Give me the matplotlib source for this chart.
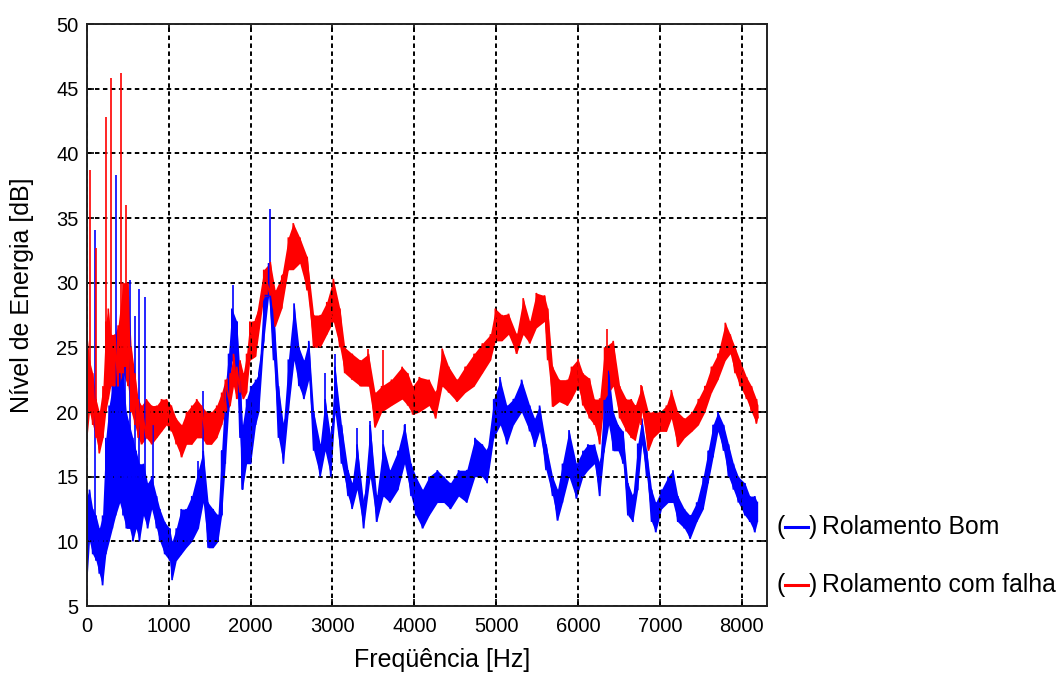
import matplotlib

matplotlib.use("Agg")
import matplotlib.pyplot as plt
import numpy as np
from matplotlib.lines import Line2D

# ---- data (Hz, dB) ----
# Rolamento Bom (blue): lower / upper edge of the noisy band
bom_freq = [0, 30, 70, 110, 150, 190, 230, 270, 310, 350, 400, 440, 480, 520, 560, 600,
            640, 690, 740, 790, 850, 890, 950, 1010, 1040, 1090, 1150, 1210, 1280, 1360,
            1420, 1480, 1540, 1600, 1645, 1690, 1730, 1770, 1830, 1870, 1900, 1950, 2000,
            2060, 2100, 2160, 2220, 2280, 2340, 2400, 2460, 2530, 2590, 2650, 2710, 2770,
            2850, 2910, 2980, 3030, 3110, 3190, 3240, 3300, 3380, 3460, 3540, 3620, 3700,
            3800, 3880, 3960, 4020, 4100, 4180, 4280, 4360, 4440, 4540, 4640, 4740, 4830,
            4890, 4970, 5050, 5130, 5210, 5310, 5410, 5470, 5530, 5610, 5690, 5750, 5810,
            5890, 5980, 6060, 6120, 6200, 6265, 6320, 6375, 6430, 6490, 6550, 6610, 6670,
            6730, 6780, 6840, 6900, 6950, 7020, 7100, 7160, 7220, 7300, 7370, 7450, 7530,
            7590, 7650, 7710, 7780, 7840, 7900, 7960, 8040, 8100, 8160, 8192]
bom_low = [7.0, 10.0, 9.0, 8.5, 7.5, 6.6, 9.0, 10.0, 11.0, 12.0, 13.0, 12.0, 11.0, 11.0, 10.0, 11.0,
           10.0, 12.0, 11.0, 12.5, 11.0, 10.0, 9.0, 8.5, 7.0, 8.5, 9.0, 9.5, 10.0, 11.0,
           13.0, 9.5, 9.5, 10.0, 12.0, 16.0, 20.0, 24.0, 23.0, 18.0, 14.0, 16.0, 16.0,
           19.0, 20.0, 25.5, 29.0, 24.0, 18.0, 16.0, 20.0, 24.0, 22.0, 21.0, 22.5, 17.0,
           15.0, 17.0, 15.0, 20.0, 16.0, 13.5, 12.5, 14.0, 11.0, 15.0, 11.5, 13.5, 13.0,
           14.0, 16.0, 13.5, 12.0, 11.0, 12.0, 13.0, 13.0, 12.5, 13.5, 13.0, 15.0, 15.0,
           14.5, 18.0, 19.0, 17.5, 19.0, 20.0, 18.5, 17.3, 18.5, 15.5, 13.5, 11.6, 13.0,
           15.0, 13.3, 15.0, 15.5, 16.0, 13.5, 17.0, 19.0, 17.0, 17.0, 16.0, 12.0, 11.5,
           14.0, 17.5, 15.0, 11.5, 10.7, 12.5, 13.0, 13.0, 11.5, 11.0, 10.2, 11.5, 12.5,
           14.5, 16.5, 18.5, 17.0, 15.0, 14.0, 13.0, 12.0, 11.5, 10.7, 11.5]
bom_high = [13.5, 14.0, 12.5, 12.0, 11.0, 12.0, 18.0, 20.5, 22.0, 24.0, 23.0, 23.0, 20.0, 19.0, 18.0, 17.0,
            16.0, 16.0, 14.5, 15.0, 13.5, 12.5, 11.5, 11.0, 10.0, 11.0, 12.5, 12.5, 13.5, 15.5,
            17.0, 13.0, 12.5, 12.0, 17.0, 22.0, 24.5, 28.0, 27.0, 23.0, 19.0, 21.0, 22.0,
            22.5, 23.0, 29.0, 31.5, 28.0, 22.0, 19.0, 24.0, 28.4, 25.0, 24.0, 25.5, 20.0,
            17.5, 21.0, 18.0, 23.5, 19.0, 15.5, 14.5, 17.5, 13.0, 19.0, 13.5, 17.5, 15.5,
            17.0, 19.0, 16.0, 15.0, 14.0, 15.0, 15.5, 15.0, 14.5, 15.5, 15.5, 18.0, 17.5,
            17.0, 21.0, 22.5, 20.5, 21.0, 22.5, 20.5, 19.5, 20.5, 17.5, 15.0, 14.0, 16.0,
            18.6, 16.0, 17.0, 17.5, 17.5, 16.0, 21.0, 23.2, 20.0, 19.0, 18.5, 14.5, 13.5,
            17.5, 19.5, 17.0, 14.0, 13.0, 14.0, 15.0, 15.5, 13.5, 12.5, 12.0, 13.0, 15.0,
            17.0, 19.0, 20.0, 19.0, 17.5, 16.0, 15.0, 14.5, 13.5, 13.5, 13.0]
# isolated narrow peaks: frequency, foot, top
bom_spike_freq = [100, 351, 470, 522, 584, 641, 706, 808, 1359, 1420, 1645, 1788, 2240, 2911,
                  3033, 3297, 3460, 3622, 3886, 5048]
bom_spike_base = [12, 14, 14, 12, 12, 11, 12, 13, 12, 14, 12, 24, 29, 18, 20, 15, 15, 14, 16, 20]
bom_spike_top = [34.1, 38.3, 23.5, 30.2, 27.4, 29.5, 28.9, 19.0, 16.2, 21.6, 17.1, 29.8, 35.7, 23.0,
                 24.5, 18.8, 19.3, 18.6, 19.1, 22.7]

# Rolamento com falha (red)
falha_freq = [0, 30, 70, 110, 150, 195, 230, 260, 290, 340, 380, 440, 500, 540, 585, 625,
              665, 725, 790, 850, 910, 970, 1030, 1090, 1155, 1215, 1280, 1340, 1400, 1460,
              1520, 1585, 1645, 1690, 1750, 1790, 1830, 1870, 1910, 1950, 1990, 2060, 2160,
              2240, 2300, 2380, 2460, 2520, 2600, 2690, 2770, 2850, 2930, 3010, 3090, 3150,
              3240, 3340, 3440, 3520, 3600, 3720, 3850, 3920, 3980, 4060, 4180, 4260, 4340,
              4420, 4520, 4620, 4730, 4830, 4930, 4990, 5070, 5150, 5250, 5330, 5410, 5490,
              5590, 5630, 5690, 5770, 5870, 5920, 6000, 6060, 6140, 6200, 6265, 6325, 6430,
              6510, 6590, 6650, 6700, 6780, 6860, 6920, 7000, 7080, 7140, 7220, 7300, 7390,
              7470, 7550, 7630, 7710, 7800, 7860, 7920, 7980, 8060, 8120, 8180, 8195]
falha_low = [18.0, 20.0, 19.0, 18.0, 16.8, 18.0, 20.0, 21.0, 22.0, 22.0, 22.0, 23.0, 22.0, 20.0, 19.0, 18.0,
             17.5, 18.0, 17.5, 18.0, 18.5, 19.0, 18.5, 17.5, 16.5, 17.5, 17.5, 18.0, 18.0, 17.5,
             17.5, 18.0, 19.0, 20.0, 20.5, 22.0, 21.0, 21.5, 21.0, 21.5, 24.0, 24.3, 28.9,
             29.0, 26.6, 28.0, 31.0, 31.0, 31.5, 29.4, 25.0, 25.0, 26.0, 27.0, 25.0, 23.0,
             22.5, 22.0, 22.0, 18.8, 20.0, 20.5, 21.0, 20.5, 19.8, 20.0, 20.5, 19.5, 22.0,
             21.5, 20.8, 21.5, 22.0, 23.0, 24.0, 25.5, 25.5, 26.0, 24.5, 26.0, 25.3, 26.5,
             27.0, 24.0, 20.4, 20.8, 20.5, 21.0, 22.0, 20.5, 19.5, 19.0, 17.5, 21.0, 22.0,
             19.5, 18.5, 18.0, 17.8, 20.0, 17.0, 18.0, 18.5, 18.5, 19.5, 17.3, 18.0, 18.5,
             19.0, 20.0, 21.5, 22.5, 24.0, 24.5, 23.0, 22.0, 21.0, 20.0, 19.1, 19.5]
falha_high = [26.0, 24.0, 23.0, 21.0, 20.0, 22.0, 27.0, 28.0, 26.0, 26.0, 26.7, 30.0, 30.0, 25.0, 23.0, 21.0,
              20.5, 21.0, 20.5, 20.5, 21.0, 21.0, 20.5, 19.5, 19.0, 20.0, 20.5, 21.0, 20.5, 20.0,
              20.0, 20.5, 21.5, 22.5, 23.0, 24.5, 23.5, 24.0, 23.0, 24.5, 27.0, 27.1, 31.0,
              31.6, 29.4, 30.5, 33.5, 34.6, 33.5, 32.0, 27.5, 27.5, 28.5, 30.3, 28.0, 25.0,
              24.5, 24.0, 24.5, 21.5, 22.0, 22.5, 23.5, 23.0, 22.0, 22.7, 22.5, 21.5, 24.9,
              23.5, 22.5, 23.5, 24.5, 25.3, 26.0, 28.0, 27.5, 27.6, 26.0, 28.8, 27.0, 29.2,
              29.0, 28.0, 23.5, 22.5, 22.5, 23.5, 24.1, 23.0, 22.6, 21.0, 21.0, 25.0, 25.5,
              22.0, 21.0, 21.0, 20.5, 22.0, 20.0, 20.0, 20.0, 20.5, 21.7, 20.0, 19.5, 20.0,
              21.0, 22.0, 23.5, 24.5, 26.9, 26.0, 25.0, 24.0, 22.7, 22.0, 21.0, 20.5]
falha_spike_freq = [33, 114, 229, 290, 412, 478, 3439, 3622, 6359, 6776]
falha_spike_base = [21, 19, 21, 22, 23, 24, 22, 21, 22, 19]
falha_spike_top = [38.7, 32.7, 42.8, 45.8, 46.2, 36.0, 24.9, 24.8, 26.4, 22.1]

X_TICKS = list(range(0, 9000, 1000))
Y_TICKS = list(range(5, 55, 5))
BLUE = "#0000ff"
RED = "#ff0000"
FONT = ["Liberation Sans", "DejaVu Sans"]
FIG_W, FIG_H = 1063.0, 673.0


def draw_band(ax, freq, low, high, color):
    f = np.asarray(freq, dtype=float)
    lo = np.asarray(low, dtype=float)
    hi = np.asarray(high, dtype=float)
    ax.fill_between(f, lo, hi, color=color, linewidth=0)
    # zig-zag between the edges to give the noisy texture
    xs = np.repeat(f, 2)
    ys = np.column_stack([lo, hi]).ravel()
    ax.plot(xs, ys, color=color, linewidth=1.2, solid_joinstyle="miter")


def draw_spikes(ax, freq, base, top, color):
    ax.vlines(freq, base, top, colors=color, linewidth=1.2)


def add_legend_entry(fig, y_px, color, label):
    y = 1 - y_px / FIG_H
    fig.text(777 / FIG_W, y, "(", fontsize=17.8, family=FONT, va="center", ha="left")
    fig.lines.append(Line2D([785 / FIG_W, 808 / FIG_W], [y, y], transform=fig.transFigure,
                            color=color, linewidth=2.2))
    fig.text(809 / FIG_W, y, ")", fontsize=17.8, family=FONT, va="center", ha="left")
    fig.text(822 / FIG_W, y, label, fontsize=17.8, family=FONT, va="center", ha="left")


def main() -> None:
    plt.rcParams["font.family"] = FONT
    fig = plt.figure(figsize=(FIG_W / 100, FIG_H / 100), dpi=100)
    ax = fig.add_axes([87 / FIG_W, 1 - 606 / FIG_H, 680 / FIG_W, 582 / FIG_H])

    draw_band(ax, bom_freq, bom_low, bom_high, BLUE)
    draw_spikes(ax, bom_spike_freq, bom_spike_base, bom_spike_top, BLUE)
    draw_band(ax, falha_freq, falha_low, falha_high, RED)
    draw_spikes(ax, falha_spike_freq, falha_spike_base, falha_spike_top, RED)

    ax.set_xlim(0, 8310)
    ax.set_ylim(5, 50)
    ax.set_xticks(X_TICKS)
    ax.set_yticks(Y_TICKS)
    ax.tick_params(direction="in", length=5, width=1.2, top=True, right=True, labelsize=14.5)
    ax.tick_params(axis="x", pad=8)
    ax.tick_params(axis="y", pad=6)
    ax.grid(True, color="black", linestyle=(0, (2.3, 1.8)), linewidth=1.4)
    for spine in ax.spines.values():
        spine.set_linewidth(1.4)
        spine.set_color("#222222")

    ax.set_xlabel("Freqüência [Hz]", fontsize=18, va="center")
    ax.xaxis.set_label_coords(0.522, -0.093)
    ax.set_ylabel("Nível de Energia [dB]", fontsize=18, va="center")
    ax.yaxis.set_label_coords(-0.096, 0.534)

    add_legend_entry(fig, 527, BLUE, "Rolamento Bom")
    add_legend_entry(fig, 585, RED, "Rolamento com falha")

    fig.savefig("out.png", dpi=100)
    plt.close(fig)


if __name__ == "__main__":
    main()
